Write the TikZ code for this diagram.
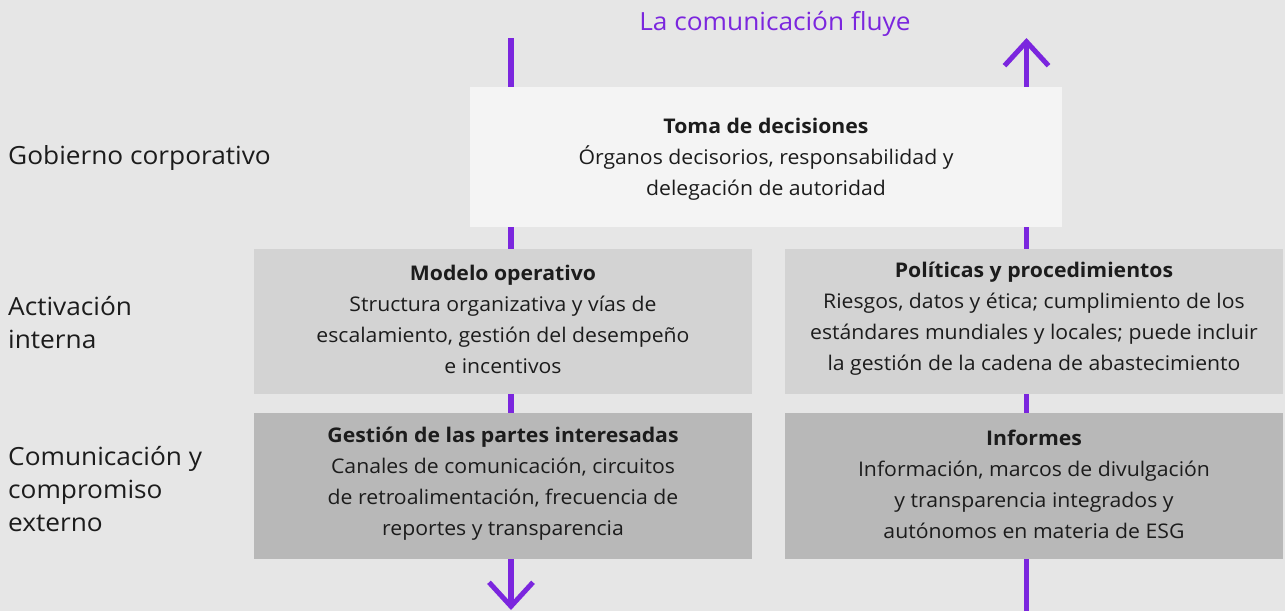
\documentclass[tikz,border=0pt]{standalone}
\usepackage{fontspec}
\setmainfont[FakeStretch=1.05]{Open Sans}
\usetikzlibrary{arrows.meta}
\definecolor{bgc}{HTML}{E6E6E6}
\definecolor{topc}{HTML}{F4F4F4}
\definecolor{midc}{HTML}{D3D3D3}
\definecolor{botc}{HTML}{B8B8B8}
\definecolor{purp}{RGB}{123,38,222}
\definecolor{ink}{HTML}{1C1C1C}
\tikzset{
  box/.style={inner sep=0pt, align=center, text=ink, font=\fontsize{20.2}{31}\selectfont},
  rowlabel/.style={anchor=west, align=left, inner sep=0pt, text=ink, font=\fontsize{25}{33}\selectfont},
  flow/.style={draw=purp, line width=5.5pt},
  tip/.style={-{Straight Barb[length=24pt,width=44pt,line width=5pt]}}
}
\begin{document}
\begin{tikzpicture}[x=1pt,y=-1pt]
\fill[bgc] (0,0) rectangle (1285,611);
\useasboundingbox (0,0) rectangle (1285,611);
% flow lines (behind boxes)
\coordinate (ltop) at (511,38);
\coordinate (lbot) at (511,610);
\coordinate (rbot) at (1026.5,611);
\coordinate (rtop) at (1026.5,38);
\draw[flow,tip] (ltop) -- (lbot);
\draw[flow,tip] (rbot) -- (rtop);
% boxes
\fill[topc] (470,87) rectangle (1062,227);
\fill[midc] (254,249) rectangle (752,394);
\fill[midc] (785,249) rectangle (1283,394);
\fill[botc] (254,413) rectangle (752,559);
\fill[botc] (785,413) rectangle (1283,559);
\node[box] (toma) at (766,159) {\textbf{Toma de decisiones}\\Órganos decisorios, responsabilidad y\\delegación de autoridad};
\node[box] (modelo) at (503,319) {\textbf{Modelo operativo}\\Structura organizativa y vías de\\escalamiento, gestión del desempeño\\e incentivos};
\node[box] (politicas) at (1034,319) {\textbf{Políticas y procedimientos}\\Riesgos, datos y ética; cumplimiento de los\\estándares mundiales y locales; puede incluir\\la gestión de la cadena de abastecimiento};
\node[box] (gestion) at (503,484) {\textbf{Gestión de las partes interesadas}\\Canales de comunicación, circuitos\\de retroalimentación, frecuencia de\\reportes y transparencia};
\node[box] (informes) at (1034,484) {\textbf{Informes}\\Información, marcos de divulgación\\y transparencia integrados y\\autónomos en materia de ESG};
% labels
\node[text=purp, font=\fontsize{25}{28}\selectfont, inner sep=0pt] (flujo) at (775,24) {La comunicación fluye};
\node[rowlabel] (gob) at (8,158) {Gobierno corporativo};
\node[rowlabel] (act) at (8,323) {Activación\\interna};
\node[rowlabel] (com) at (8,489) {Comunicación y\\compromiso\\externo};
\end{tikzpicture}
\end{document}
